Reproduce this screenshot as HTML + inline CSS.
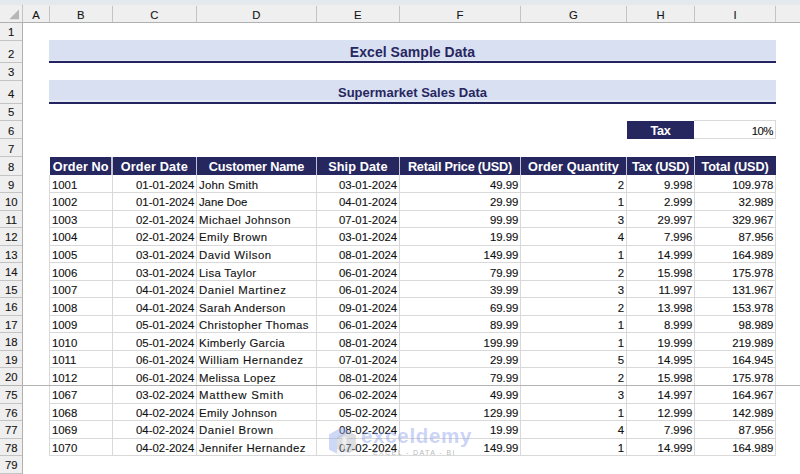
<!DOCTYPE html><html><head><meta charset="utf-8"><style>
*{margin:0;padding:0;box-sizing:border-box}
html,body{width:800px;height:474px;overflow:hidden;background:#fff;font-family:"Liberation Sans",sans-serif}
.a{position:absolute}
.t{position:absolute;white-space:nowrap;line-height:1}
.rh{background:#efefef}
.hl{background:#c4c4c4}
.gl{background:#d9d9d9}
.cell{font-size:11.4px;color:#111;-webkit-text-stroke:0.12px #111}
.hdr{font-size:12.7px;color:#fff;font-weight:bold}
</style></head><body>
<div class="a" style="left:0;top:0;width:800px;height:4.6px;background:#e4e9ee"></div>
<div class="a rh" style="left:0;top:4.6px;width:800px;height:17.8px"></div>
<div class="a rh" style="left:0;top:22.4px;width:22.5px;height:451.6px"></div>
<div class="a" style="left:0;top:21.7px;width:800px;height:1.3px;background:#b0b0b0"></div>
<div class="a" style="left:21.8px;top:4.6px;width:1.3px;height:474px;background:#b0b0b0"></div>
<svg class="a" style="left:0;top:4.6px" width="22" height="18"><polygon points="19,4.5 19,14.2 9.3,14.2" fill="#b6b6b6"/></svg>
<div class="a hl" style="left:22px;top:5.6px;width:1px;height:16.8px"></div>
<div class="a hl" style="left:48.9px;top:5.6px;width:1px;height:16.8px"></div>
<div class="a hl" style="left:111.7px;top:5.6px;width:1px;height:16.8px"></div>
<div class="a hl" style="left:196px;top:5.6px;width:1px;height:16.8px"></div>
<div class="a hl" style="left:315.9px;top:5.6px;width:1px;height:16.8px"></div>
<div class="a hl" style="left:398.9px;top:5.6px;width:1px;height:16.8px"></div>
<div class="a hl" style="left:520.1px;top:5.6px;width:1px;height:16.8px"></div>
<div class="a hl" style="left:625.9px;top:5.6px;width:1px;height:16.8px"></div>
<div class="a hl" style="left:694.1px;top:5.6px;width:1px;height:16.8px"></div>
<div class="a hl" style="left:775.1px;top:5.6px;width:1px;height:16.8px"></div>
<div class="t" style="left:35.95px;top:9.8px;width:60px;margin-left:-30px;text-align:center;font-size:11.3px;color:#151515;-webkit-text-stroke:0.12px #151515">A</div>
<div class="t" style="left:80.8px;top:9.8px;width:60px;margin-left:-30px;text-align:center;font-size:11.3px;color:#151515;-webkit-text-stroke:0.12px #151515">B</div>
<div class="t" style="left:154.35px;top:9.8px;width:60px;margin-left:-30px;text-align:center;font-size:11.3px;color:#151515;-webkit-text-stroke:0.12px #151515">C</div>
<div class="t" style="left:256.45px;top:9.8px;width:60px;margin-left:-30px;text-align:center;font-size:11.3px;color:#151515;-webkit-text-stroke:0.12px #151515">D</div>
<div class="t" style="left:357.9px;top:9.8px;width:60px;margin-left:-30px;text-align:center;font-size:11.3px;color:#151515;-webkit-text-stroke:0.12px #151515">E</div>
<div class="t" style="left:460px;top:9.8px;width:60px;margin-left:-30px;text-align:center;font-size:11.3px;color:#151515;-webkit-text-stroke:0.12px #151515">F</div>
<div class="t" style="left:573.5px;top:9.8px;width:60px;margin-left:-30px;text-align:center;font-size:11.3px;color:#151515;-webkit-text-stroke:0.12px #151515">G</div>
<div class="t" style="left:660.5px;top:9.8px;width:60px;margin-left:-30px;text-align:center;font-size:11.3px;color:#151515;-webkit-text-stroke:0.12px #151515">H</div>
<div class="t" style="left:735.1px;top:9.8px;width:60px;margin-left:-30px;text-align:center;font-size:11.3px;color:#151515;-webkit-text-stroke:0.12px #151515">I</div>
<div class="a hl" style="left:0;top:39.6px;width:22px;height:1px"></div>
<div class="t" style="left:0;top:27.1px;width:22.5px;text-align:center;font-size:11.3px;color:#151515;-webkit-text-stroke:0.12px #151515">1</div>
<div class="a hl" style="left:0;top:62.3px;width:22px;height:1px"></div>
<div class="t" style="left:0;top:48.6px;width:22.5px;text-align:center;font-size:11.3px;color:#151515;-webkit-text-stroke:0.12px #151515">2</div>
<div class="a hl" style="left:0;top:79.8px;width:22px;height:1px"></div>
<div class="t" style="left:0;top:67.3px;width:22.5px;text-align:center;font-size:11.3px;color:#151515;-webkit-text-stroke:0.12px #151515">3</div>
<div class="a hl" style="left:0;top:102.7px;width:22px;height:1px"></div>
<div class="t" style="left:0;top:89px;width:22.5px;text-align:center;font-size:11.3px;color:#151515;-webkit-text-stroke:0.12px #151515">4</div>
<div class="a hl" style="left:0;top:119.75px;width:22px;height:1px"></div>
<div class="t" style="left:0;top:107.25px;width:22.5px;text-align:center;font-size:11.3px;color:#151515;-webkit-text-stroke:0.12px #151515">5</div>
<div class="a hl" style="left:0;top:138.4px;width:22px;height:1px"></div>
<div class="t" style="left:0;top:125.9px;width:22.5px;text-align:center;font-size:11.3px;color:#151515;-webkit-text-stroke:0.12px #151515">6</div>
<div class="a hl" style="left:0;top:156px;width:22px;height:1px"></div>
<div class="t" style="left:0;top:143.5px;width:22.5px;text-align:center;font-size:11.3px;color:#151515;-webkit-text-stroke:0.12px #151515">7</div>
<div class="a hl" style="left:0;top:174.8px;width:22px;height:1px"></div>
<div class="t" style="left:0;top:162.3px;width:22.5px;text-align:center;font-size:11.3px;color:#151515;-webkit-text-stroke:0.12px #151515">8</div>
<div class="a hl" style="left:0;top:192.3px;width:22px;height:1px"></div>
<div class="t" style="left:0;top:179.8px;width:22.5px;text-align:center;font-size:11.3px;color:#151515;-webkit-text-stroke:0.12px #151515">9</div>
<div class="a hl" style="left:0;top:209.8px;width:22px;height:1px"></div>
<div class="t" style="left:0;top:197.3px;width:22.5px;text-align:center;font-size:11.3px;color:#151515;-webkit-text-stroke:0.12px #151515">10</div>
<div class="a hl" style="left:0;top:227.3px;width:22px;height:1px"></div>
<div class="t" style="left:0;top:214.8px;width:22.5px;text-align:center;font-size:11.3px;color:#151515;-webkit-text-stroke:0.12px #151515">11</div>
<div class="a hl" style="left:0;top:244.8px;width:22px;height:1px"></div>
<div class="t" style="left:0;top:232.3px;width:22.5px;text-align:center;font-size:11.3px;color:#151515;-webkit-text-stroke:0.12px #151515">12</div>
<div class="a hl" style="left:0;top:262.3px;width:22px;height:1px"></div>
<div class="t" style="left:0;top:249.8px;width:22.5px;text-align:center;font-size:11.3px;color:#151515;-webkit-text-stroke:0.12px #151515">13</div>
<div class="a hl" style="left:0;top:279.8px;width:22px;height:1px"></div>
<div class="t" style="left:0;top:267.3px;width:22.5px;text-align:center;font-size:11.3px;color:#151515;-webkit-text-stroke:0.12px #151515">14</div>
<div class="a hl" style="left:0;top:297.3px;width:22px;height:1px"></div>
<div class="t" style="left:0;top:284.8px;width:22.5px;text-align:center;font-size:11.3px;color:#151515;-webkit-text-stroke:0.12px #151515">15</div>
<div class="a hl" style="left:0;top:314.8px;width:22px;height:1px"></div>
<div class="t" style="left:0;top:302.3px;width:22.5px;text-align:center;font-size:11.3px;color:#151515;-webkit-text-stroke:0.12px #151515">16</div>
<div class="a hl" style="left:0;top:332.3px;width:22px;height:1px"></div>
<div class="t" style="left:0;top:319.8px;width:22.5px;text-align:center;font-size:11.3px;color:#151515;-webkit-text-stroke:0.12px #151515">17</div>
<div class="a hl" style="left:0;top:349.8px;width:22px;height:1px"></div>
<div class="t" style="left:0;top:337.3px;width:22.5px;text-align:center;font-size:11.3px;color:#151515;-webkit-text-stroke:0.12px #151515">18</div>
<div class="a hl" style="left:0;top:367.3px;width:22px;height:1px"></div>
<div class="t" style="left:0;top:354.8px;width:22.5px;text-align:center;font-size:11.3px;color:#151515;-webkit-text-stroke:0.12px #151515">19</div>
<div class="a hl" style="left:0;top:384.8px;width:22px;height:1px"></div>
<div class="t" style="left:0;top:372.3px;width:22.5px;text-align:center;font-size:11.3px;color:#151515;-webkit-text-stroke:0.12px #151515">20</div>
<div class="a hl" style="left:0;top:402.55px;width:22px;height:1px"></div>
<div class="t" style="left:0;top:390.05px;width:22.5px;text-align:center;font-size:11.3px;color:#151515;-webkit-text-stroke:0.12px #151515">75</div>
<div class="a hl" style="left:0;top:420.1px;width:22px;height:1px"></div>
<div class="t" style="left:0;top:407.6px;width:22.5px;text-align:center;font-size:11.3px;color:#151515;-webkit-text-stroke:0.12px #151515">76</div>
<div class="a hl" style="left:0;top:437.65px;width:22px;height:1px"></div>
<div class="t" style="left:0;top:425.15px;width:22.5px;text-align:center;font-size:11.3px;color:#151515;-webkit-text-stroke:0.12px #151515">77</div>
<div class="a hl" style="left:0;top:455.2px;width:22px;height:1px"></div>
<div class="t" style="left:0;top:442.7px;width:22.5px;text-align:center;font-size:11.3px;color:#151515;-webkit-text-stroke:0.12px #151515">78</div>
<div class="a hl" style="left:0;top:472.75px;width:22px;height:1px"></div>
<div class="t" style="left:0;top:460.25px;width:22.5px;text-align:center;font-size:11.3px;color:#151515;-webkit-text-stroke:0.12px #151515">79</div>
<div class="a hl" style="left:0;top:489.5px;width:22px;height:1px"></div>
<div class="a" style="left:49.4px;top:40.1px;width:726.2px;height:20.1px;background:#d9e0f2"></div>
<div class="a" style="left:49.4px;top:60.2px;width:726.2px;height:1.2px;background:#e4e9f6"></div>
<div class="a" style="left:49.4px;top:61.4px;width:726.2px;height:2px;background:#242460"></div>
<div class="t" style="left:49.4px;top:45.2px;width:726.2px;text-align:center;font-size:14px;font-weight:bold;color:#27275f;letter-spacing:0.044px;">Excel Sample Data</div>
<div class="a" style="left:49.4px;top:80.3px;width:726.2px;height:20.1px;background:#d9e0f2"></div>
<div class="a" style="left:49.4px;top:100.4px;width:726.2px;height:1.2px;background:#e4e9f6"></div>
<div class="a" style="left:49.4px;top:101.6px;width:726.2px;height:2px;background:#242460"></div>
<div class="t" style="left:49.4px;top:85.8px;width:726.2px;text-align:center;font-size:13px;font-weight:bold;color:#27275f;letter-spacing:0.005px;">Supermarket Sales Data</div>
<div class="a" style="left:627px;top:121.05px;width:67px;height:17.85px;background:#27275f"></div>
<div class="t hdr" style="left:626.4px;top:125.45px;width:68.2px;text-align:center;letter-spacing:-0.250px;">Tax</div>
<div class="a" style="left:694.1px;top:120.15px;width:81.8px;height:19.05px;border:1px solid #d9d9d9;border-left:none"></div>
<div class="t cell" style="left:694.6px;top:125.85px;width:78.4px;text-align:right;letter-spacing:-0.5px">10%</div>
<div class="a" style="left:49.9px;top:157px;width:725.7px;height:18px;background:#27275f"></div>
<div class="a" style="left:694.6px;top:156.2px;width:81px;height:1px;background:#1c1c55"></div>
<div class="t hdr" style="left:49.4px;top:161.3px;width:62.8px;text-align:center;letter-spacing:0.114px;">Order No</div>
<div class="a" style="left:111.4px;top:156.5px;width:1.6px;height:18.5px;background:#c2c2d4"></div>
<div class="t hdr" style="left:112.2px;top:161.3px;width:84.3px;text-align:center;letter-spacing:0.167px;">Order Date</div>
<div class="a" style="left:195.7px;top:156.5px;width:1.6px;height:18.5px;background:#c2c2d4"></div>
<div class="t hdr" style="left:196.5px;top:161.3px;width:119.9px;text-align:center;letter-spacing:-0.146px;">Customer Name</div>
<div class="a" style="left:315.6px;top:156.5px;width:1.6px;height:18.5px;background:#c2c2d4"></div>
<div class="t hdr" style="left:316.4px;top:161.3px;width:83px;text-align:center;letter-spacing:0.100px;">Ship Date</div>
<div class="a" style="left:398.6px;top:156.5px;width:1.6px;height:18.5px;background:#c2c2d4"></div>
<div class="t hdr" style="left:399.4px;top:161.3px;width:121.2px;text-align:center;letter-spacing:-0.206px;">Retail Price (USD)</div>
<div class="a" style="left:519.8px;top:156.5px;width:1.6px;height:18.5px;background:#c2c2d4"></div>
<div class="t hdr" style="left:520.6px;top:161.3px;width:105.8px;text-align:center;letter-spacing:0.108px;">Order Quantity</div>
<div class="a" style="left:625.6px;top:156.5px;width:1.6px;height:18.5px;background:#c2c2d4"></div>
<div class="t hdr" style="left:626.4px;top:161.3px;width:68.2px;text-align:center;letter-spacing:-0.300px;">Tax (USD)</div>
<div class="a" style="left:693.8px;top:156.5px;width:1.6px;height:18.5px;background:#c2c2d4"></div>
<div class="t hdr" style="left:694.6px;top:161.3px;width:81px;text-align:center;letter-spacing:-0.080px;">Total (USD)</div>
<div class="a gl" style="left:49.9px;top:192.3px;width:725.7px;height:1px"></div>
<div class="t cell" style="left:51.9px;top:179.8px;">1001</div>
<div class="t cell" style="left:112.2px;top:179.8px;width:82.1px;text-align:right">01-01-2024</div>
<div class="t cell" style="left:199px;top:179.8px;letter-spacing:0.233px;">John Smith</div>
<div class="t cell" style="left:316.4px;top:179.8px;width:80.8px;text-align:right">03-01-2024</div>
<div class="t cell" style="left:399.4px;top:179.8px;width:119px;text-align:right">49.99</div>
<div class="t cell" style="left:520.6px;top:179.8px;width:103.6px;text-align:right">2</div>
<div class="t cell" style="left:626.4px;top:179.8px;width:66px;text-align:right">9.998</div>
<div class="t cell" style="left:694.6px;top:179.8px;width:78.8px;text-align:right">109.978</div>
<div class="a gl" style="left:49.9px;top:209.8px;width:725.7px;height:1px"></div>
<div class="t cell" style="left:51.9px;top:197.36px;">1002</div>
<div class="t cell" style="left:112.2px;top:197.36px;width:82.1px;text-align:right">01-01-2024</div>
<div class="t cell" style="left:199px;top:197.36px;letter-spacing:-0.071px;">Jane Doe</div>
<div class="t cell" style="left:316.4px;top:197.36px;width:80.8px;text-align:right">04-01-2024</div>
<div class="t cell" style="left:399.4px;top:197.36px;width:119px;text-align:right">29.99</div>
<div class="t cell" style="left:520.6px;top:197.36px;width:103.6px;text-align:right">1</div>
<div class="t cell" style="left:626.4px;top:197.36px;width:66px;text-align:right">2.999</div>
<div class="t cell" style="left:694.6px;top:197.36px;width:78.8px;text-align:right">32.989</div>
<div class="a gl" style="left:49.9px;top:227.3px;width:725.7px;height:1px"></div>
<div class="t cell" style="left:51.9px;top:214.92px;">1003</div>
<div class="t cell" style="left:112.2px;top:214.92px;width:82.1px;text-align:right">02-01-2024</div>
<div class="t cell" style="left:199px;top:214.92px;letter-spacing:0.436px;">Michael Johnson</div>
<div class="t cell" style="left:316.4px;top:214.92px;width:80.8px;text-align:right">07-01-2024</div>
<div class="t cell" style="left:399.4px;top:214.92px;width:119px;text-align:right">99.99</div>
<div class="t cell" style="left:520.6px;top:214.92px;width:103.6px;text-align:right">3</div>
<div class="t cell" style="left:626.4px;top:214.92px;width:66px;text-align:right">29.997</div>
<div class="t cell" style="left:694.6px;top:214.92px;width:78.8px;text-align:right">329.967</div>
<div class="a gl" style="left:49.9px;top:244.8px;width:725.7px;height:1px"></div>
<div class="t cell" style="left:51.9px;top:232.48px;">1004</div>
<div class="t cell" style="left:112.2px;top:232.48px;width:82.1px;text-align:right">02-01-2024</div>
<div class="t cell" style="left:199px;top:232.48px;letter-spacing:0.480px;">Emily Brown</div>
<div class="t cell" style="left:316.4px;top:232.48px;width:80.8px;text-align:right">03-01-2024</div>
<div class="t cell" style="left:399.4px;top:232.48px;width:119px;text-align:right">19.99</div>
<div class="t cell" style="left:520.6px;top:232.48px;width:103.6px;text-align:right">4</div>
<div class="t cell" style="left:626.4px;top:232.48px;width:66px;text-align:right">7.996</div>
<div class="t cell" style="left:694.6px;top:232.48px;width:78.8px;text-align:right">87.956</div>
<div class="a gl" style="left:49.9px;top:262.3px;width:725.7px;height:1px"></div>
<div class="t cell" style="left:51.9px;top:250.04px;">1005</div>
<div class="t cell" style="left:112.2px;top:250.04px;width:82.1px;text-align:right">03-01-2024</div>
<div class="t cell" style="left:199px;top:250.04px;letter-spacing:0.509px;">David Wilson</div>
<div class="t cell" style="left:316.4px;top:250.04px;width:80.8px;text-align:right">08-01-2024</div>
<div class="t cell" style="left:399.4px;top:250.04px;width:119px;text-align:right">149.99</div>
<div class="t cell" style="left:520.6px;top:250.04px;width:103.6px;text-align:right">1</div>
<div class="t cell" style="left:626.4px;top:250.04px;width:66px;text-align:right">14.999</div>
<div class="t cell" style="left:694.6px;top:250.04px;width:78.8px;text-align:right">164.989</div>
<div class="a gl" style="left:49.9px;top:279.8px;width:725.7px;height:1px"></div>
<div class="t cell" style="left:51.9px;top:267.6px;">1006</div>
<div class="t cell" style="left:112.2px;top:267.6px;width:82.1px;text-align:right">03-01-2024</div>
<div class="t cell" style="left:199px;top:267.6px;letter-spacing:0.280px;">Lisa Taylor</div>
<div class="t cell" style="left:316.4px;top:267.6px;width:80.8px;text-align:right">06-01-2024</div>
<div class="t cell" style="left:399.4px;top:267.6px;width:119px;text-align:right">79.99</div>
<div class="t cell" style="left:520.6px;top:267.6px;width:103.6px;text-align:right">2</div>
<div class="t cell" style="left:626.4px;top:267.6px;width:66px;text-align:right">15.998</div>
<div class="t cell" style="left:694.6px;top:267.6px;width:78.8px;text-align:right">175.978</div>
<div class="a gl" style="left:49.9px;top:297.3px;width:725.7px;height:1px"></div>
<div class="t cell" style="left:51.9px;top:285.16px;">1007</div>
<div class="t cell" style="left:112.2px;top:285.16px;width:82.1px;text-align:right">04-01-2024</div>
<div class="t cell" style="left:199px;top:285.16px;letter-spacing:0.550px;">Daniel Martinez</div>
<div class="t cell" style="left:316.4px;top:285.16px;width:80.8px;text-align:right">06-01-2024</div>
<div class="t cell" style="left:399.4px;top:285.16px;width:119px;text-align:right">39.99</div>
<div class="t cell" style="left:520.6px;top:285.16px;width:103.6px;text-align:right">3</div>
<div class="t cell" style="left:626.4px;top:285.16px;width:66px;text-align:right">11.997</div>
<div class="t cell" style="left:694.6px;top:285.16px;width:78.8px;text-align:right">131.967</div>
<div class="a gl" style="left:49.9px;top:314.8px;width:725.7px;height:1px"></div>
<div class="t cell" style="left:51.9px;top:302.72px;">1008</div>
<div class="t cell" style="left:112.2px;top:302.72px;width:82.1px;text-align:right">04-01-2024</div>
<div class="t cell" style="left:199px;top:302.72px;letter-spacing:0.354px;">Sarah Anderson</div>
<div class="t cell" style="left:316.4px;top:302.72px;width:80.8px;text-align:right">09-01-2024</div>
<div class="t cell" style="left:399.4px;top:302.72px;width:119px;text-align:right">69.99</div>
<div class="t cell" style="left:520.6px;top:302.72px;width:103.6px;text-align:right">2</div>
<div class="t cell" style="left:626.4px;top:302.72px;width:66px;text-align:right">13.998</div>
<div class="t cell" style="left:694.6px;top:302.72px;width:78.8px;text-align:right">153.978</div>
<div class="a gl" style="left:49.9px;top:332.3px;width:725.7px;height:1px"></div>
<div class="t cell" style="left:51.9px;top:320.28px;">1009</div>
<div class="t cell" style="left:112.2px;top:320.28px;width:82.1px;text-align:right">05-01-2024</div>
<div class="t cell" style="left:199px;top:320.28px;letter-spacing:0.382px;">Christopher Thomas</div>
<div class="t cell" style="left:316.4px;top:320.28px;width:80.8px;text-align:right">06-01-2024</div>
<div class="t cell" style="left:399.4px;top:320.28px;width:119px;text-align:right">89.99</div>
<div class="t cell" style="left:520.6px;top:320.28px;width:103.6px;text-align:right">1</div>
<div class="t cell" style="left:626.4px;top:320.28px;width:66px;text-align:right">8.999</div>
<div class="t cell" style="left:694.6px;top:320.28px;width:78.8px;text-align:right">98.989</div>
<div class="a gl" style="left:49.9px;top:349.8px;width:725.7px;height:1px"></div>
<div class="t cell" style="left:51.9px;top:337.84px;">1010</div>
<div class="t cell" style="left:112.2px;top:337.84px;width:82.1px;text-align:right">05-01-2024</div>
<div class="t cell" style="left:199px;top:337.84px;letter-spacing:0.329px;">Kimberly Garcia</div>
<div class="t cell" style="left:316.4px;top:337.84px;width:80.8px;text-align:right">08-01-2024</div>
<div class="t cell" style="left:399.4px;top:337.84px;width:119px;text-align:right">199.99</div>
<div class="t cell" style="left:520.6px;top:337.84px;width:103.6px;text-align:right">1</div>
<div class="t cell" style="left:626.4px;top:337.84px;width:66px;text-align:right">19.999</div>
<div class="t cell" style="left:694.6px;top:337.84px;width:78.8px;text-align:right">219.989</div>
<div class="a gl" style="left:49.9px;top:367.3px;width:725.7px;height:1px"></div>
<div class="t cell" style="left:51.9px;top:355.4px;">1011</div>
<div class="t cell" style="left:112.2px;top:355.4px;width:82.1px;text-align:right">06-01-2024</div>
<div class="t cell" style="left:199px;top:355.4px;letter-spacing:0.525px;">William Hernandez</div>
<div class="t cell" style="left:316.4px;top:355.4px;width:80.8px;text-align:right">07-01-2024</div>
<div class="t cell" style="left:399.4px;top:355.4px;width:119px;text-align:right">29.99</div>
<div class="t cell" style="left:520.6px;top:355.4px;width:103.6px;text-align:right">5</div>
<div class="t cell" style="left:626.4px;top:355.4px;width:66px;text-align:right">14.995</div>
<div class="t cell" style="left:694.6px;top:355.4px;width:78.8px;text-align:right">164.945</div>
<div class="a gl" style="left:49.9px;top:384.8px;width:725.7px;height:1px"></div>
<div class="t cell" style="left:51.9px;top:372.96px;">1012</div>
<div class="t cell" style="left:112.2px;top:372.96px;width:82.1px;text-align:right">06-01-2024</div>
<div class="t cell" style="left:199px;top:372.96px;letter-spacing:0.333px;">Melissa Lopez</div>
<div class="t cell" style="left:316.4px;top:372.96px;width:80.8px;text-align:right">08-01-2024</div>
<div class="t cell" style="left:399.4px;top:372.96px;width:119px;text-align:right">79.99</div>
<div class="t cell" style="left:520.6px;top:372.96px;width:103.6px;text-align:right">2</div>
<div class="t cell" style="left:626.4px;top:372.96px;width:66px;text-align:right">15.998</div>
<div class="t cell" style="left:694.6px;top:372.96px;width:78.8px;text-align:right">175.978</div>
<div class="a gl" style="left:49.9px;top:402.55px;width:725.7px;height:1px"></div>
<div class="t cell" style="left:51.9px;top:390.05px;">1067</div>
<div class="t cell" style="left:112.2px;top:390.05px;width:82.1px;text-align:right">03-02-2024</div>
<div class="t cell" style="left:199px;top:390.05px;letter-spacing:0.742px;">Matthew Smith</div>
<div class="t cell" style="left:316.4px;top:390.05px;width:80.8px;text-align:right">06-02-2024</div>
<div class="t cell" style="left:399.4px;top:390.05px;width:119px;text-align:right">49.99</div>
<div class="t cell" style="left:520.6px;top:390.05px;width:103.6px;text-align:right">3</div>
<div class="t cell" style="left:626.4px;top:390.05px;width:66px;text-align:right">14.997</div>
<div class="t cell" style="left:694.6px;top:390.05px;width:78.8px;text-align:right">164.967</div>
<div class="a gl" style="left:49.9px;top:420.1px;width:725.7px;height:1px"></div>
<div class="t cell" style="left:51.9px;top:407.6px;">1068</div>
<div class="t cell" style="left:112.2px;top:407.6px;width:82.1px;text-align:right">04-02-2024</div>
<div class="t cell" style="left:199px;top:407.6px;letter-spacing:0.308px;">Emily Johnson</div>
<div class="t cell" style="left:316.4px;top:407.6px;width:80.8px;text-align:right">05-02-2024</div>
<div class="t cell" style="left:399.4px;top:407.6px;width:119px;text-align:right">129.99</div>
<div class="t cell" style="left:520.6px;top:407.6px;width:103.6px;text-align:right">1</div>
<div class="t cell" style="left:626.4px;top:407.6px;width:66px;text-align:right">12.999</div>
<div class="t cell" style="left:694.6px;top:407.6px;width:78.8px;text-align:right">142.989</div>
<div class="a gl" style="left:49.9px;top:437.65px;width:725.7px;height:1px"></div>
<div class="t cell" style="left:51.9px;top:425.15px;">1069</div>
<div class="t cell" style="left:112.2px;top:425.15px;width:82.1px;text-align:right">04-02-2024</div>
<div class="t cell" style="left:199px;top:425.15px;letter-spacing:0.573px;">Daniel Brown</div>
<div class="t cell" style="left:316.4px;top:425.15px;width:80.8px;text-align:right">08-02-2024</div>
<div class="t cell" style="left:399.4px;top:425.15px;width:119px;text-align:right">19.99</div>
<div class="t cell" style="left:520.6px;top:425.15px;width:103.6px;text-align:right">4</div>
<div class="t cell" style="left:626.4px;top:425.15px;width:66px;text-align:right">7.996</div>
<div class="t cell" style="left:694.6px;top:425.15px;width:78.8px;text-align:right">87.956</div>
<div class="a gl" style="left:49.9px;top:455.2px;width:725.7px;height:1px"></div>
<div class="t cell" style="left:51.9px;top:442.7px;">1070</div>
<div class="t cell" style="left:112.2px;top:442.7px;width:82.1px;text-align:right">04-02-2024</div>
<div class="t cell" style="left:199px;top:442.7px;letter-spacing:0.418px;">Jennifer Hernandez</div>
<div class="t cell" style="left:316.4px;top:442.7px;width:80.8px;text-align:right">07-02-2024</div>
<div class="t cell" style="left:399.4px;top:442.7px;width:119px;text-align:right">149.99</div>
<div class="t cell" style="left:520.6px;top:442.7px;width:103.6px;text-align:right">1</div>
<div class="t cell" style="left:626.4px;top:442.7px;width:66px;text-align:right">14.999</div>
<div class="t cell" style="left:694.6px;top:442.7px;width:78.8px;text-align:right">164.989</div>
<div class="a gl" style="left:49.4px;top:175.3px;width:1px;height:210px"></div>
<div class="a gl" style="left:111.7px;top:175.3px;width:1px;height:210px"></div>
<div class="a gl" style="left:196px;top:175.3px;width:1px;height:210px"></div>
<div class="a gl" style="left:315.9px;top:175.3px;width:1px;height:210px"></div>
<div class="a gl" style="left:398.9px;top:175.3px;width:1px;height:210px"></div>
<div class="a gl" style="left:520.1px;top:175.3px;width:1px;height:210px"></div>
<div class="a gl" style="left:625.9px;top:175.3px;width:1px;height:210px"></div>
<div class="a gl" style="left:694.1px;top:175.3px;width:1px;height:210px"></div>
<div class="a gl" style="left:775.1px;top:175.3px;width:1px;height:210px"></div>
<div class="a gl" style="left:49.4px;top:385.5px;width:1px;height:70.2px"></div>
<div class="a gl" style="left:111.7px;top:385.5px;width:1px;height:70.2px"></div>
<div class="a gl" style="left:196px;top:385.5px;width:1px;height:70.2px"></div>
<div class="a gl" style="left:315.9px;top:385.5px;width:1px;height:70.2px"></div>
<div class="a gl" style="left:398.9px;top:385.5px;width:1px;height:70.2px"></div>
<div class="a gl" style="left:520.1px;top:385.5px;width:1px;height:70.2px"></div>
<div class="a gl" style="left:625.9px;top:385.5px;width:1px;height:70.2px"></div>
<div class="a gl" style="left:694.1px;top:385.5px;width:1px;height:70.2px"></div>
<div class="a gl" style="left:775.1px;top:385.5px;width:1px;height:70.2px"></div>
<div class="a" style="left:0;top:384.8px;width:800px;height:1.4px;background:#b3b3b3"></div>
<svg class="a" style="left:0;top:0" width="800" height="474"><polygon points="329,434.5 342,427 355,434.5 355,449.5 342,457 329,449.5" fill="rgba(200,210,235,0.18)"/><polygon points="329,434.5 342,427 350,431.5 337,439 337,453.5 329,449.5" fill="rgba(120,150,235,0.32)"/><polygon points="337,437 349,432 356,435 356,450 349,453 337,449" fill="rgba(150,150,150,0.26)"/><rect x="342.5" y="437" width="4" height="12" fill="rgba(255,255,255,0.55)"/></svg>
<div class="t" style="left:361px;top:426px;font-size:20.5px;font-weight:bold;letter-spacing:0.7px;color:rgba(120,145,235,0.4)">exceldemy</div>
<div class="t" style="left:373px;top:449px;font-size:7px;letter-spacing:1.4px;color:rgba(110,110,110,0.5)">EXCEL - DATA - BI</div>
</body></html>
